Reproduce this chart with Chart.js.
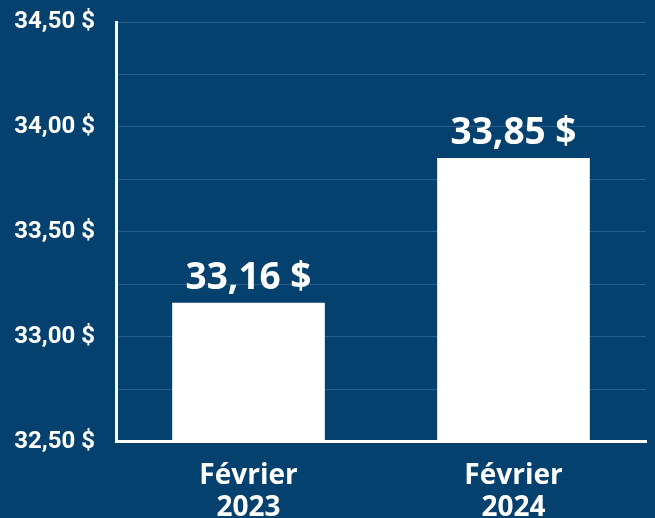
<!DOCTYPE html>
<html>
<head>
<meta charset="utf-8">
<script src="https://cdn.jsdelivr.net/npm/chart.js@4.4.0/dist/chart.umd.min.js"></script>
<style>
  html, body { margin: 0; padding: 0; background: #05416f; overflow: hidden; }
  #wrap { width: 655px; height: 542px; position: relative; }
</style>
</head>
<body>
<div id="wrap"><canvas id="c"></canvas></div>
<script>
const categories = [["Février", "2023"], ["Février", "2024"]];
const values = [33.16, 33.85];
const valueLabels = ["33,16 $", "33,85 $"];
const yMin = 32.5;
const yMax = 34.5;
const yStep = 0.25;

function fmt(v) {
  return v.toFixed(2).replace('.', ',') + ' $';
}

const barLabels = {
  id: 'barLabels',
  afterDatasetsDraw(chart) {
    const ctx = chart.ctx;
    const meta = chart.getDatasetMeta(0);
    ctx.save();
    ctx.fillStyle = '#ffffff';
    ctx.font = 'bold 37px "Open Sans"';
    ctx.textAlign = 'center';
    ctx.textBaseline = 'alphabetic';
    meta.data.forEach((bar, i) => {
      ctx.fillText(valueLabels[i], bar.x, bar.y - 14);
    });
    ctx.restore();
  }
};

new Chart(document.getElementById('c'), {
  type: 'bar',
  data: {
    labels: categories,
    datasets: [{
      data: values,
      backgroundColor: '#ffffff',
      borderWidth: 0,
      barThickness: 152
    }]
  },
  options: {
    responsive: true,
    maintainAspectRatio: false,
    animation: false,
    layout: { padding: { top: 22, right: 9, left: 0, bottom: 0 } },
    plugins: { legend: { display: false }, tooltip: { enabled: false } },
    scales: {
      x: {
        grid: { display: false, drawTicks: false },
        border: { display: true, color: '#ffffff', width: 3 },
        ticks: {
          color: '#ffffff',
          font: { family: '"Open Sans"', weight: 'bold', size: 28, lineHeight: 1.15 },
          padding: 18,
          maxRotation: 0
        }
      },
      y: {
        min: yMin,
        max: yMax,
        afterFit(scale) { scale.width = 116; scale.paddingTop = 0; scale.paddingBottom = 0; },
        grid: { color: '#2a5f8c', lineWidth: 1, drawTicks: false },
        border: { display: true, color: '#ffffff', width: 3 },
        ticks: {
          stepSize: yStep,
          color: '#ffffff',
          padding: 21,
          font: { family: 'Roboto', weight: 'bold', size: 24 },
          callback(v) {
            const r = Math.round(v * 100) / 100;
            return (Math.round(r * 100) % 50 === 0) ? fmt(r) : '';
          }
        }
      }
    }
  },
  plugins: [barLabels]
});
</script>
</body>
</html>
